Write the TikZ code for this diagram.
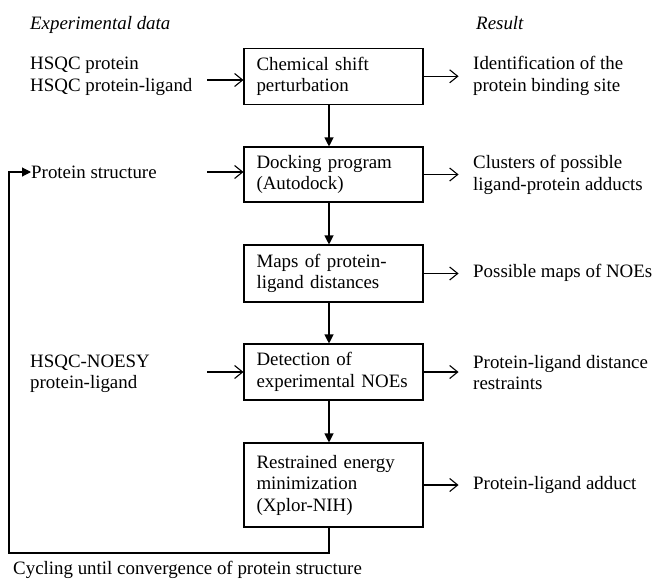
\documentclass[tikz,border=0pt]{standalone}
\usepackage{fontspec}
\setmainfont{Liberation Serif}
\usetikzlibrary{arrows.meta}
\begin{document}
\begin{tikzpicture}[x=1pt,y=-1pt,
  every node/.style={font=\rmfamily\fontsize{18.9}{21.5}\selectfont},
  procbox/.style={draw,line width=1.1pt,minimum width=179pt,text width=154pt,inner xsep=12.5pt,align=left,anchor=center},
  lbl/.style={anchor=west,align=left,inner sep=0pt},
  flow/.style={line width=1.1pt,-{Triangle[length=9pt,width=9pt]}},
  side/.style={line width=1.1pt,-{Straight Barb[length=8pt,width=13pt,line width=1.1pt]}}]
\useasboundingbox (0,0) rectangle (652,581);
\node[lbl,font=\rmfamily\itshape\fontsize{18.9}{21.5}\selectfont] (hexp) at (30,25) {Experimental data};
\node[lbl,font=\rmfamily\itshape\fontsize{18.9}{21.5}\selectfont] (hres) at (476,23) {Result};

\node[procbox,minimum height=56.5pt] (b1) at (333.5,76.3) {Chemical shift\\perturbation};
\node[procbox,minimum height=55pt] (b2) at (333.5,174.5) {Docking program\\(Autodock)};
\node[procbox,minimum height=57pt] (b3) at (333.5,273.5) {Maps of protein-\\ligand distances};
\node[procbox,minimum height=56pt] (b4) at (333.5,372) {Detection of\\experimental NOEs};
\node[procbox,minimum height=84pt] (b5) at (333.5,485) {Restrained energy\\minimization\\(Xplor-NIH)};

\node[lbl] (i1) at (30,76.5) {HSQC protein\\HSQC protein-ligand};
\node[lbl] (i2) at (31,172) {Protein structure};
\node[lbl] (i4) at (30,374) {HSQC-NOESY\\protein-ligand};

\node[lbl] (o1) at (473,76) {Identification of the\\protein binding site};
\node[lbl] (o2) at (473,175) {Clusters of possible\\ligand-protein adducts};
\node[lbl] (o3) at (473,273) {Possible maps of NOEs};
\node[lbl] (o4) at (473,372.5) {Protein-ligand distance\\restraints};
\node[lbl] (o5) at (473,485) {Protein-ligand adduct};

\node[lbl] (cap) at (13,570) {Cycling until convergence of protein structure};

\coordinate (a1) at (207,80);
\coordinate (a2) at (207,172);
\coordinate (a4) at (207,372);
\draw[side] (a1) -- (b1.west|-a1);
\draw[side] (a2) -- (b2.west|-a2);
\draw[side] (a4) -- (b4.west|-a4);

\foreach \s/\t in {b1/o1,b2/o2,b3/o3,b4/o4,b5/o5}
  \draw[side] (\s.east|-\s) -- ++(35,0);

\foreach \s/\t in {b1/b2,b2/b3,b3/b4,b4/b5}
  \draw[flow] ([xshift=-4.5pt]\s.south) -- ([xshift=-4.5pt]\t.north);

\coordinate (lb) at (9,553);
\draw[flow] ([xshift=-4.5pt]b5.south) |- (lb) |- (i2.west);
\end{tikzpicture}
\end{document}
